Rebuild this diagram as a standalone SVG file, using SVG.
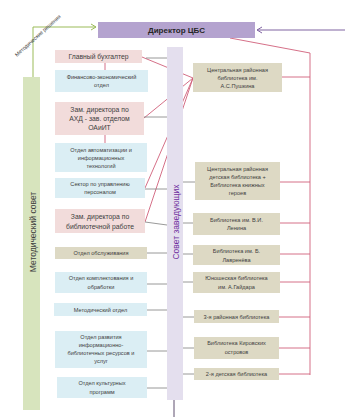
<svg xmlns="http://www.w3.org/2000/svg" width="345" height="417" viewBox="0 0 345 417">
<style>
text{font-family:"Liberation Sans",Arial,sans-serif;fill:#404040;text-anchor:middle}
.s6{font-size:5.6px}
.s7{font-size:6.8px}
.pink{fill:#f2dcdb}
.blue{fill:#dbeef4}
.tan{fill:#ddd9c4}
.gray{stroke:#7f7f7f;stroke-width:0.8;fill:none}
.red{stroke:#d0607a;stroke-width:0.9;fill:none}
</style>
<defs>
<marker id="ag" markerWidth="8" markerHeight="8" refX="6" refY="4" orient="auto" markerUnits="userSpaceOnUse"><path d="M1,1 L6,4 L1,7" fill="none" stroke="#9bbb59" stroke-width="1"/></marker>
<marker id="ap" markerWidth="8" markerHeight="8" refX="6" refY="4" orient="auto" markerUnits="userSpaceOnUse"><path d="M1,1 L6,4 L1,7" fill="none" stroke="#8064a2" stroke-width="1"/></marker>
</defs>
<rect width="345" height="417" fill="#ffffff"/>

<g id="connectors">
<polyline points="33,77 33,27 96,27" fill="none" stroke="#9bbb59" stroke-width="1" marker-end="url(#ag)"/>
<line x1="345" y1="30" x2="257" y2="30" stroke="#8064a2" stroke-width="1.2" marker-end="url(#ap)"/>
<polyline class="red" points="230,38 310,53 310,375"/>
<line class="red" x1="105" y1="63" x2="105" y2="70"/>
<line class="red" x1="105" y1="135" x2="105" y2="143"/>
<line class="red" x1="193" y1="78" x2="142" y2="57"/>
<line class="red" x1="193" y1="78" x2="144" y2="118"/>
<line class="red" x1="193" y1="78" x2="145" y2="188"/>
<line class="red" x1="193" y1="78" x2="145" y2="222"/>
<line class="red" x1="282" y1="77" x2="310" y2="77"/>
<line class="red" x1="280" y1="182" x2="310" y2="182"/>
<line class="red" x1="280" y1="223" x2="310" y2="223"/>
<line class="red" x1="280" y1="254" x2="310" y2="254"/>
<line class="red" x1="280" y1="282" x2="310" y2="282"/>
<line class="red" x1="279" y1="317" x2="310" y2="317"/>
<line class="red" x1="279" y1="348" x2="310" y2="348"/>
<line class="red" x1="279" y1="374" x2="310" y2="374"/>
<line class="gray" x1="146" y1="58" x2="167" y2="58"/>
<line class="gray" x1="144" y1="117" x2="167" y2="117"/>
<line class="gray" x1="145" y1="189" x2="167" y2="189"/>
<line class="gray" x1="145" y1="222" x2="167" y2="225"/>
<line class="gray" x1="147" y1="253" x2="167" y2="253"/>
<line class="gray" x1="147" y1="284" x2="167" y2="284"/>
<line class="gray" x1="147" y1="310" x2="167" y2="310"/>
<line class="gray" x1="147" y1="351" x2="167" y2="351"/>
<line class="gray" x1="147" y1="388" x2="167" y2="388"/>
<line class="gray" x1="183" y1="182" x2="195" y2="182"/>
<line class="gray" x1="183" y1="223" x2="193" y2="223"/>
<line class="gray" x1="183" y1="254" x2="193" y2="254"/>
<line class="gray" x1="183" y1="282" x2="193" y2="282"/>
<line class="gray" x1="183" y1="317" x2="194" y2="317"/>
<line class="gray" x1="183" y1="348" x2="194" y2="348"/>
<line class="gray" x1="183" y1="374" x2="194" y2="374"/>
<line x1="174" y1="400" x2="174" y2="417" stroke="#5f4f6f" stroke-width="1"/>
<text transform="translate(39,37) rotate(-42)" style="font-size:5.4px">Методические решения</text>
</g>

<g id="director">
<rect x="98" y="22" width="157" height="16" fill="#b4a3cf"/>
<text x="176.5" y="33" style="font-size:8px;font-weight:bold;fill:#262626">Директор ЦБС</text>
</g>

<g id="metod-sovet">
<rect x="23" y="77" width="17" height="333" fill="#d7e4bd"/>
<text transform="translate(35.5,232) rotate(-90)" style="font-size:8.5px;fill:#3f3f3f">Методический совет</text>
</g>

<g id="sovet-zav">
<rect x="167" y="47" width="16" height="353" fill="#e4dfee"/>
<text transform="translate(178.5,222) rotate(-90)" style="font-size:8.5px;fill:#7030a0">Совет заведующих</text>
</g>

<g id="glavbuh"><rect class="pink" x="55" y="50" width="87" height="13"/><text class="s7" x="98.5" y="59">Главный бухгалтер</text></g>
<g id="finotdel"><rect class="blue" x="55" y="70" width="93" height="22"/><text class="s6" x="101.5" y="79">Финансово-экономический</text><text class="s6" x="101.5" y="87">отдел</text></g>
<g id="zam-ahd"><rect class="pink" x="55" y="102" width="89" height="33"/><text class="s7" x="99.5" y="112">Зам. директора по</text><text class="s7" x="99.5" y="121">АХД - зав. отделом</text><text class="s7" x="99.5" y="130">ОАиИТ</text></g>
<g id="oait"><rect class="blue" x="55" y="143" width="92" height="29"/><text class="s6" x="101" y="152">Отдел автоматизации и</text><text class="s6" x="101" y="160">информационных</text><text class="s6" x="101" y="168">технологий</text></g>
<g id="sektor"><rect class="blue" x="55" y="178" width="90" height="20"/><text class="s6" x="100" y="186">Сектор по управлению</text><text class="s6" x="100" y="194">персоналом</text></g>
<g id="zam-bibl"><rect class="pink" x="55" y="209" width="90" height="24"/><text class="s7" x="100" y="219">Зам. директора по</text><text class="s7" x="100" y="229">библиотечной работе</text></g>
<g id="obsl"><rect class="tan" x="55" y="247" width="92" height="12"/><text class="s6" x="101" y="255">Отдел обслуживания</text></g>
<g id="kompl"><rect class="blue" x="55" y="272" width="92" height="21"/><text class="s6" x="101" y="280">Отдел комплектования и</text><text class="s6" x="101" y="289">обработки</text></g>
<g id="metotdel"><rect class="blue" x="54" y="303" width="93" height="13"/><text class="s6" x="100.5" y="311.5">Методический  отдел</text></g>
<g id="razv"><rect class="blue" x="55" y="331" width="92" height="37"/><text class="s6" x="101" y="339">Отдел развития</text><text class="s6" x="101" y="347">информационно-</text><text class="s6" x="101" y="355">библиотечных ресурсов и</text><text class="s6" x="101" y="363">услуг</text></g>
<g id="kult"><rect class="blue" x="57" y="377" width="90" height="21"/><text class="s6" x="102" y="385">Отдел культурных</text><text class="s6" x="102" y="394">программ</text></g>

<g id="pushkin"><rect class="tan" x="193" y="63" width="89" height="29"/><text class="s6" x="237.5" y="72">Центральная районная</text><text class="s6" x="237.5" y="80">библиотека им.</text><text class="s6" x="237.5" y="88">А.С.Пушкина</text></g>
<g id="crdb"><rect class="tan" x="195" y="162" width="85" height="38"/><text class="s6" x="237.5" y="171">Центральная районная</text><text class="s6" x="237.5" y="179">детская библиотека +</text><text class="s6" x="237.5" y="187">Библиотека книжных</text><text class="s6" x="237.5" y="195">героев</text></g>
<g id="lenin"><rect class="tan" x="193" y="213" width="87" height="22"/><text class="s6" x="236.5" y="221.5">Библиотека им. В.И.</text><text class="s6" x="236.5" y="230">Ленина</text></g>
<g id="lavrenev"><rect class="tan" x="193" y="245" width="87" height="20"/><text class="s6" x="236.5" y="253">Библиотека им. Б.</text><text class="s6" x="236.5" y="261.5">Лавренёва</text></g>
<g id="gaidar"><rect class="tan" x="193" y="272" width="87" height="21"/><text class="s6" x="236.5" y="280">Юношеская библиотека</text><text class="s6" x="236.5" y="289">им. А.Гайдара</text></g>
<g id="third"><rect class="tan" x="194" y="310" width="85" height="13"/><text class="s6" x="236.5" y="318.5">3-я районная библиотека</text></g>
<g id="kirov"><rect class="tan" x="194" y="337" width="85" height="22"/><text class="s6" x="236.5" y="345">Библиотека Кировских</text><text class="s6" x="236.5" y="354">островов</text></g>
<g id="second"><rect class="tan" x="194" y="368" width="85" height="12"/><text class="s6" x="236.5" y="376">2-я детская библиотека</text></g>
</svg>
